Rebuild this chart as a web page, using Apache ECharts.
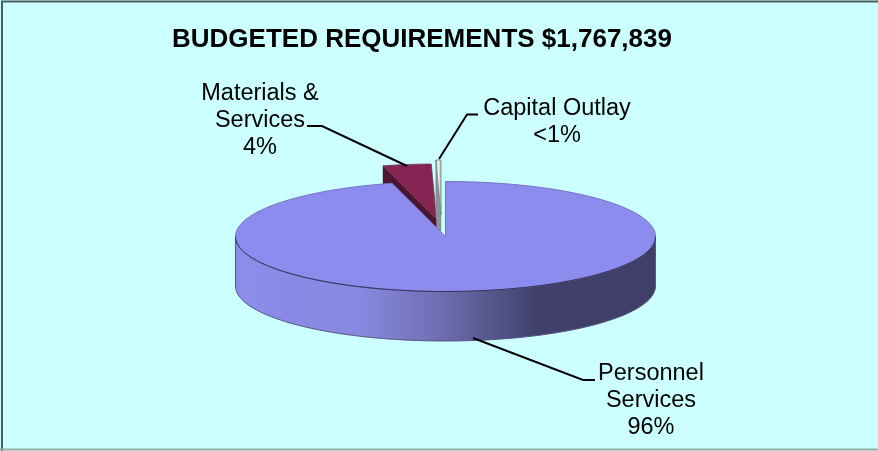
<!DOCTYPE html>
<html><head><meta charset="utf-8">
<style>html,body{margin:0;padding:0;background:#fff}#c{width:878px;height:451px}</style>
<script src="https://cdn.jsdelivr.net/npm/echarts@6/dist/echarts.min.js"></script>
</head><body><div id="c"></div>
<script>
var titleText = 'BUDGETED REQUIREMENTS $1,767,839';
var categories = ['Personnel Services', 'Materials & Services', 'Capital Outlay'];
var shares = [95.9, 3.7, 0.4];
var shownLabels = ['Personnel\nServices\n96%', 'Materials &\nServices\n4%', 'Capital Outlay\n<1%'];

var disc = {cx: 445.5, cy: 236.5, rx: 210, ry: 55, depth: 49.5};
var explode = [[0, 0], [-9, -17.5], [-4.5, -21.5]];
var capitalFill = {type: 'linear', x: 0, y: 0, x2: 1, y2: 0, colorStops: [
  {offset: 0, color: '#8f9a9a'}, {offset: 0.5, color: '#eef4f4'}, {offset: 1, color: '#a8b4b4'}]};
var topColors = ['#8c8cee', '#862454', capitalFill];
var sideColors = ['#8c8cee', '#4c1630', '#8a9494'];
var edgeColors = ['#7474c4', '#6a3a52', '#6f7c7c'];
var labelPos = [[651, 401], [260, 121], [557, 122.5]];
var leaders = [
  [[473, 338], [583, 380], [595, 380]],
  [[307, 126], [322, 126], [407, 166]],
  [[478, 114.5], [467, 114.5], [439, 159]]
];
var drawOrder = [1, 2, 0];

function pt(a, ox, oy, dz) {
  return [disc.cx + ox + disc.rx * Math.sin(a), disc.cy + oy + dz - disc.ry * Math.cos(a)];
}
function arc(a0, a1, ox, oy, dz) {
  var n = Math.max(2, Math.ceil(Math.abs(a1 - a0) * 40)), out = [];
  for (var i = 0; i <= n; i++) out.push(pt(a0 + (a1 - a0) * i / n, ox, oy, dz));
  return out;
}
var total = shares.reduce(function (s, v) { return s + v; }, 0);
var starts = [], acc = 0;
shares.forEach(function (v) { starts.push(acc / total * 2 * Math.PI); acc += v; });

var sideFill = {
  type: 'linear', x: 0, y: 0, x2: 1, y2: 0,
  colorStops: [
    {offset: 0, color: '#8c8cea'}, {offset: 0.3, color: '#8888e0'},
    {offset: 0.5, color: '#6c6cae'}, {offset: 0.72, color: '#40406b'}, {offset: 1, color: '#3e3e66'}
  ]
};

function renderItem(params, api) {
  var i = drawOrder[params.dataIndex];
  var a0 = starts[i], a1 = a0 + api.value(1) / total * 2 * Math.PI;
  var o = explode[i], ox = o[0], oy = o[1], d = disc.depth, kids = [];
  var top = arc(a0, a1, ox, oy, 0), cen = [disc.cx + ox, disc.cy + oy];
  var upper = null;
  if (i === 0) {
    var frontA = Math.max(a0, Math.PI / 2), frontB = Math.min(a1, Math.PI * 1.5);
    upper = arc(frontA, frontB, ox, oy, 0);
    var lower = arc(frontB, frontA, ox, oy, d);
    kids.push({type: 'polygon', shape: {points: upper.concat(lower)},
      style: {fill: sideFill, stroke: '#56567e', lineWidth: 1}});
  } else {
    // the visible left-hand cut wall of a pulled-out wedge
    var wall = [top[0], cen, [cen[0], cen[1] + d], [top[0][0], top[0][1] + d]];
    kids.push({type: 'polygon', shape: {points: wall}, style: {fill: sideColors[i], stroke: sideColors[i], lineWidth: 0.5}});
  }
  kids.push({type: 'polygon', shape: {points: top.concat([cen])},
    style: {fill: topColors[i], stroke: edgeColors[i], lineWidth: i === 0 ? 1 : 0.8}});
  if (upper) {
    kids.push({type: 'polyline', shape: {points: upper}, style: {fill: null, stroke: '#33335a', lineWidth: 1}});
  }
  return {type: 'group', children: kids};
}

function renderLabel(params, api) {
  var i = params.dataIndex;
  return {type: 'group', children: [
    {type: 'polyline', shape: {points: leaders[i]}, style: {fill: null, stroke: '#000', lineWidth: 2}},
    {type: 'text', x: labelPos[i][0], y: labelPos[i][1], style: {
      text: shownLabels[i], fill: '#000', font: '23.5px "Liberation Sans", Arial, sans-serif',
      lineHeight: 27, align: 'center', verticalAlign: 'middle'}}
  ]};
}

var chart = echarts.init(document.getElementById('c'), null, {renderer: 'canvas'});
chart.setOption({
  animation: false,
  backgroundColor: '#ccffff',
  title: {text: titleText, left: 417, top: 22, textAlign: 'center',
    textStyle: {fontFamily: '"Liberation Sans", Arial, sans-serif', fontWeight: 'bold', fontSize: 26, color: '#000'}},
  graphic: [{type: 'polyline', silent: true, z: 100,
    shape: {points: [[2, 451], [2, 1.5], [878, 1.5]]}, style: {fill: null, stroke: '#4a5c5c', lineWidth: 2}},
    {type: 'line', silent: true, z: 100, shape: {x1: 0, y1: 449.5, x2: 878, y2: 449.5}, style: {stroke: '#9aa8a8', lineWidth: 2}}],
  series: [
    {type: 'custom', coordinateSystem: 'none', renderItem: renderItem, z: 2,
      data: drawOrder.map(function (i) { return [categories[i], shares[i]]; })},
    {type: 'custom', coordinateSystem: 'none', renderItem: renderLabel, z: 3,
      data: categories.map(function (c, i) { return [c, shares[i]]; })}
  ]
});
</script></body></html>
